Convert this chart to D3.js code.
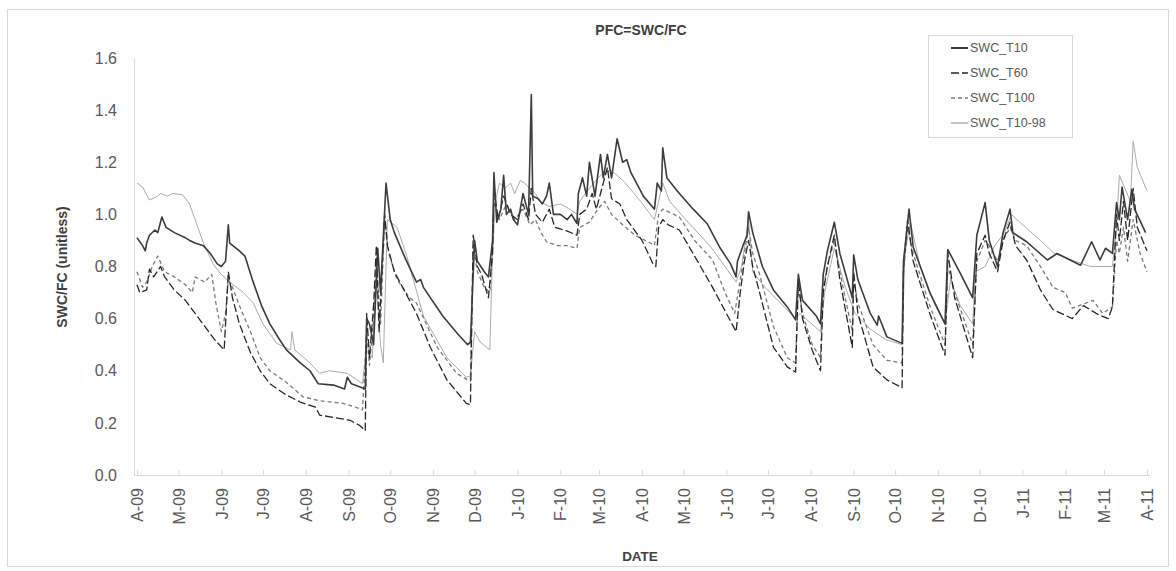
<!DOCTYPE html>
<html>
<head>
<meta charset="utf-8">
<script src="https://cdn.jsdelivr.net/npm/d3@7"></script>
<style>
  body { margin: 0; background: #fff; }
  svg { display: block; }
  text { font-family: "Liberation Sans", Arial, sans-serif; }
</style>
</head>
<body>
<svg id="chart" width="1176" height="571"></svg>
<script>
// x = days since 1 Apr 2009, y = SWC/FC
const monthLabels = ["A-09","M-09","J-09","J-09","A-09","S-09","O-09","N-09","D-09","J-10","F-10","M-10",
  "A-10","M-10","J-10","J-10","A-10","S-10","O-10","N-10","D-10","J-11","F-11","M-11","A-11"];
const yTicks = [0, 0.2, 0.4, 0.6, 0.8, 1.0, 1.2, 1.4, 1.6];

const swcT10 = [[0,0.91],[4,0.88],[6,0.86],[7,0.89],[9,0.92],[13,0.94],[15,0.93],[18,0.99],[21,0.95],[27,0.93],
  [35,0.91],[38,0.90],[42,0.89],[48,0.88],[53,0.85],[58,0.81],[61,0.80],[64,0.82],[66,0.96],[67,0.89],[74,0.86],
  [78,0.84],[84,0.74],[90,0.65],[96,0.58],[103,0.52],[108,0.48],[118,0.43],[125,0.40],[131,0.35],[142,0.345],
  [150,0.33],[152,0.375],[155,0.35],[165,0.33],[166,0.60],[168,0.58],[171,0.50],[174,0.87],[176,0.70],[180,1.12],
  [183,0.98],[186,0.93],[194,0.83],[202,0.74],[205,0.75],[207,0.72],[221,0.61],[232,0.54],[239,0.50],[241,0.51],
  [244,0.90],[246,0.82],[251,0.78],[254,0.76],[257,0.90],[258,1.16],[260,0.97],[263,1.02],[265,1.15],[267,1.0],
  [270,1.02],[272,0.98],[275,0.96],[277,1.02],[279,1.08],[283,1.0],[285,1.46],[286,1.07],[290,1.06],[293,1.04],
  [296,1.07],[298,1.12],[301,1.0],[306,1.0],[311,0.98],[314,1.0],[318,0.965],[319,1.08],[322,1.14],[325,1.07],
  [327,1.2],[331,1.07],[335,1.23],[337,1.14],[340,1.23],[343,1.14],[347,1.29],[351,1.2],[354,1.21],[357,1.16],
  [366,1.07],[374,1.02],[376,1.12],[379,1.09],[380,1.255],[383,1.14],[392,1.08],[402,1.02],[412,0.965],[421,0.875],
  [429,0.81],[433,0.76],[434,0.82],[438,0.88],[441,0.92],[442,1.01],[445,0.93],[452,0.80],[460,0.71],[470,0.645],
  [476,0.595],[478,0.77],[481,0.67],[491,0.61],[494,0.58],[496,0.77],[499,0.86],[504,0.97],[508,0.85],[517,0.68],
  [518,0.845],[521,0.75],[530,0.62],[535,0.575],[536,0.61],[542,0.53],[553,0.505],[554,0.82],[558,1.02],[561,0.875],
  [573,0.70],[584,0.58],[586,0.865],[595,0.775],[604,0.68],[607,0.92],[613,1.045],[616,0.90],[622,0.80],[626,0.93],
  [631,1.02],[633,0.93],[643,0.895],[658,0.825],[665,0.85],[682,0.805],[690,0.895],[696,0.825],[700,0.87],[705,0.85],
  [708,1.045],[710,0.98],[712,1.105],[716,0.98],[719,1.095],[721,1.02],[729,0.93]];

const swcT60 = [[0,0.73],[2,0.70],[7,0.71],[9,0.79],[12,0.76],[17,0.80],[20,0.76],[27,0.71],[35,0.67],[42,0.62],
  [49,0.57],[56,0.52],[63,0.48],[66,0.78],[69,0.68],[74,0.58],[82,0.47],[89,0.40],[96,0.35],[107,0.31],[118,0.28],
  [129,0.26],[132,0.23],[143,0.22],[154,0.21],[161,0.19],[165,0.17],[166,0.62],[168,0.45],[171,0.65],[173,0.88],
  [175,0.55],[179,1.0],[181,0.88],[186,0.78],[194,0.70],[202,0.62],[212,0.49],[224,0.365],[238,0.275],[241,0.27],
  [243,0.92],[246,0.80],[249,0.77],[254,0.68],[257,0.85],[258,1.1],[261,0.98],[265,1.07],[270,1.0],[275,0.98],
  [279,1.04],[283,0.98],[285,1.1],[288,1.0],[293,0.97],[298,1.02],[302,0.95],[309,0.94],[318,0.92],[320,1.0],
  [325,1.02],[329,1.08],[332,1.02],[337,1.12],[340,1.18],[343,1.06],[349,1.04],[354,0.98],[365,0.90],[373,0.81],
  [375,0.80],[377,0.95],[380,0.98],[384,0.96],[392,0.94],[403,0.84],[416,0.72],[425,0.63],[433,0.55],[436,0.70],
  [439,0.82],[442,0.90],[445,0.80],[450,0.70],[460,0.49],[470,0.415],[476,0.395],[478,0.75],[481,0.60],[488,0.48],
  [494,0.40],[496,0.70],[499,0.80],[504,0.92],[508,0.75],[517,0.49],[518,0.78],[521,0.62],[532,0.415],[542,0.365],
  [553,0.335],[554,0.80],[557,0.98],[561,0.82],[573,0.62],[584,0.46],[586,0.85],[591,0.68],[604,0.45],[607,0.85],
  [613,0.92],[616,0.85],[622,0.78],[626,0.90],[631,0.97],[635,0.88],[643,0.825],[653,0.71],[662,0.635],[676,0.60],
  [684,0.65],[695,0.615],[702,0.60],[705,0.645],[708,1.0],[710,0.9],[713,1.05],[716,0.9],[720,1.1],[723,0.95],[730,0.86]];

const swcT100 = [[0,0.78],[4,0.72],[7,0.74],[11,0.80],[15,0.84],[20,0.78],[27,0.76],[35,0.73],[40,0.70],[42,0.76],
  [49,0.74],[54,0.77],[57,0.66],[61,0.55],[64,0.62],[66,0.75],[69,0.72],[74,0.65],[82,0.55],[89,0.45],[96,0.40],
  [107,0.36],[120,0.30],[132,0.285],[149,0.275],[158,0.26],[163,0.25],[166,0.55],[168,0.42],[171,0.60],[173,0.82],
  [176,0.58],[179,0.98],[182,0.85],[188,0.75],[197,0.68],[202,0.66],[217,0.49],[231,0.39],[239,0.365],[241,0.36],
  [243,0.88],[246,0.78],[251,0.72],[255,0.70],[257,0.88],[258,1.05],[262,0.98],[267,1.04],[273,0.98],[279,1.02],
  [284,0.96],[288,0.98],[292,0.93],[296,0.895],[304,0.88],[311,0.88],[318,0.87],[320,0.95],[327,0.97],[333,1.02],
  [338,1.05],[343,1.0],[351,0.96],[360,0.92],[371,0.89],[374,0.88],[377,1.0],[380,1.02],[392,0.99],[403,0.90],
  [416,0.825],[425,0.70],[432,0.62],[436,0.75],[439,0.85],[442,0.95],[445,0.85],[450,0.77],[460,0.57],[470,0.45],
  [476,0.43],[478,0.73],[481,0.62],[488,0.50],[494,0.45],[496,0.72],[499,0.80],[504,0.90],[508,0.78],[517,0.55],
  [518,0.75],[521,0.66],[532,0.50],[542,0.44],[553,0.43],[554,0.78],[557,0.95],[561,0.85],[573,0.65],[584,0.50],
  [586,0.80],[591,0.70],[604,0.50],[607,0.82],[613,0.90],[616,0.88],[622,0.82],[626,0.90],[631,0.95],[635,0.90],
  [643,0.88],[653,0.80],[662,0.72],[671,0.70],[676,0.64],[691,0.67],[698,0.62],[705,0.645],[708,0.90],[710,0.85],
  [713,0.95],[716,0.82],[720,0.98],[725,0.85],[730,0.78]];

const swcT1098 = [[0,1.12],[4,1.105],[9,1.055],[15,1.07],[17,1.08],[22,1.07],[26,1.08],[33,1.075],[38,1.04],[43,0.965],
  [48,0.89],[55,0.81],[60,0.775],[67,0.74],[77,0.70],[84,0.66],[91,0.58],[101,0.505],[111,0.48],[112,0.55],[114,0.48],
  [125,0.43],[132,0.39],[139,0.40],[152,0.39],[163,0.35],[166,0.50],[170,0.45],[173,0.75],[176,0.50],[178,0.43],
  [181,0.98],[188,0.95],[195,0.84],[207,0.61],[224,0.45],[238,0.375],[241,0.38],[244,0.55],[248,0.51],[255,0.48],
  [257,0.85],[259,1.05],[262,1.12],[266,1.10],[270,1.12],[273,1.08],[277,1.13],[280,1.12],[284,1.10],[288,1.08],
  [291,1.05],[298,1.03],[306,1.04],[313,1.02],[318,1.0],[320,1.05],[327,1.1],[335,1.15],[342,1.17],[347,1.15],
  [353,1.12],[364,1.05],[371,1.0],[374,0.98],[377,1.05],[380,1.12],[385,1.05],[400,0.96],[414,0.88],[425,0.80],
  [433,0.74],[437,0.80],[442,0.98],[445,0.78],[454,0.72],[465,0.66],[476,0.60],[479,0.62],[494,0.55],[497,0.70],
  [504,0.87],[512,0.72],[519,0.62],[530,0.56],[541,0.52],[553,0.50],[555,0.85],[559,0.97],[566,0.80],[577,0.65],
  [584,0.58],[588,0.75],[595,0.65],[604,0.58],[606,0.78],[613,0.80],[620,0.88],[627,0.93],[632,1.0],[638,0.97],
  [653,0.9],[663,0.85],[678,0.82],[689,0.80],[705,0.80],[708,0.95],[710,1.15],[714,1.10],[718,1.05],[720,1.28],
  [723,1.18],[730,1.09]];

const series = [
  { name: "SWC_T10", data: swcT10, color: "#3c3c3c", width: 1.6, dash: null },
  { name: "SWC_T60", data: swcT60, color: "#262626", width: 1.3, dash: "8,3" },
  { name: "SWC_T100", data: swcT100, color: "#7a7a7a", width: 1.3, dash: "4,3" },
  { name: "SWC_T10-98", data: swcT1098, color: "#ababab", width: 1, dash: null }
];

const svg = d3.select("#chart");
const start = new Date(2009, 3, 1);

// 外框
svg.append("rect")
  .attr("x", 7.5).attr("y", 9.5).attr("width", 1161).attr("height", 557)
  .attr("fill", "#fff").attr("stroke", "#d9d9d9");

const x = d3.scaleLinear().domain([0, 730]).range([137, 1147]);
const y = d3.scaleLinear().domain([0, 1.6]).range([475, 58]);

// 标题
svg.append("text")
  .attr("x", 641).attr("y", 35).attr("text-anchor", "middle")
  .attr("font-size", 14).attr("font-weight", "bold").attr("fill", "#404040")
  .text("PFC=SWC/FC");

// y 轴
const yAxis = svg.append("g")
  .attr("transform", "translate(134,0)")
  .call(d3.axisLeft(y).tickValues(yTicks).tickFormat(d3.format(".1f")).tickSize(0).tickPadding(17));
yAxis.select(".domain").attr("stroke", "#d9d9d9");
yAxis.selectAll("text").attr("font-size", 16).attr("fill", "#595959")
  .attr("font-family", "Liberation Sans, Arial, sans-serif");

svg.append("text")
  .attr("transform", "translate(62,267) rotate(-90)")
  .attr("text-anchor", "middle").attr("dy", "0.35em")
  .attr("font-size", 14).attr("font-weight", "bold").attr("fill", "#404040")
  .text("SWC/FC (unitless)");

// x 轴：每月一个刻度
const tickDays = monthLabels.map((_, i) => d3.timeDay.count(start, d3.timeMonth.offset(start, i)));
const xAxis = svg.append("g")
  .attr("transform", "translate(0,475)")
  .call(d3.axisBottom(x).tickValues(tickDays).tickFormat((d, i) => monthLabels[i]).tickSize(-5));
xAxis.select(".domain").remove();
xAxis.selectAll(".tick line").attr("stroke", "#d9d9d9");
xAxis.selectAll(".tick text")
  .attr("font-size", 16).attr("fill", "#595959")
  .attr("font-family", "Liberation Sans, Arial, sans-serif")
  .attr("text-anchor", "end")
  .attr("transform", "translate(0,13) rotate(-90)")
  .attr("x", 0).attr("y", 0).attr("dy", "0.35em");
svg.append("line")
  .attr("x1", 134).attr("x2", 1150).attr("y1", 475.5).attr("y2", 475.5)
  .attr("stroke", "#d9d9d9");

svg.append("text")
  .attr("x", 640).attr("y", 561).attr("text-anchor", "middle")
  .attr("font-size", 13.5).attr("font-weight", "bold").attr("fill", "#404040")
  .text("DATE");

// 曲线
const line = d3.line().x(d => x(d[0])).y(d => y(d[1]));
svg.append("g").selectAll("path")
  .data(series.slice().reverse())
  .enter()
  .append("path")
  .attr("d", d => line(d.data))
  .attr("fill", "none")
  .attr("stroke", d => d.color)
  .attr("stroke-width", d => d.width)
  .attr("stroke-dasharray", d => d.dash)
  .attr("stroke-linejoin", "round");

// 图例
const legend = svg.append("g");
legend.append("rect")
  .attr("x", 928.5).attr("y", 35.5).attr("width", 144).attr("height", 102)
  .attr("fill", "#fff").attr("stroke", "#d9d9d9");
const items = legend.selectAll("g.item")
  .data(series)
  .enter()
  .append("g")
  .attr("class", "item")
  .attr("transform", (_, i) => `translate(0,${48 + i * 25})`);
items.append("line")
  .attr("x1", 951).attr("x2", 968).attr("y1", 0).attr("y2", 0)
  .attr("stroke", d => d.color)
  .attr("stroke-width", d => d.width + 0.4)
  .attr("stroke-dasharray", d => d.dash);
items.append("text")
  .attr("x", 970).attr("dy", "0.35em")
  .attr("font-size", 12.5).attr("fill", "#595959")
  .text(d => d.name);
</script>
</body>
</html>
